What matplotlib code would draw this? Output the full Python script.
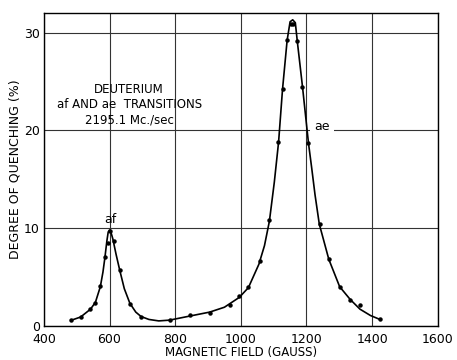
import matplotlib.pyplot as plt

# measured points
field = [482, 512, 542, 557, 572, 586, 594, 600, 614, 631, 662, 696,
         783, 845, 905, 966, 995, 1023, 1057, 1087, 1114, 1127, 1142,
         1153, 1160, 1172, 1186, 1206, 1240, 1268, 1302, 1332, 1363, 1423]
quench = [0.56, 0.9, 1.7, 2.3, 4.1, 7.0, 8.5, 9.7, 8.7, 5.7, 2.2, 0.9,
          0.56, 1.06, 1.3, 2.1, 3.0, 4.0, 6.6, 10.8, 18.8, 24.2, 29.2,
          30.9, 30.9, 29.1, 24.4, 18.7, 10.4, 6.8, 4.0, 2.65, 2.1, 0.66]

# drawn curve
curve_x = [482, 512, 542, 557, 572, 580, 586, 592, 596, 600, 604, 610, 620,
           631, 645, 662, 680, 696, 720, 750, 783, 845, 905, 950, 995, 1023,
           1055, 1072, 1087, 1102, 1115, 1127, 1141, 1150, 1158, 1166, 1172,
           1188, 1206, 1216, 1226, 1239, 1268, 1301, 1333, 1363, 1395, 1423]
curve_y = [0.55, 0.9, 1.7, 2.4, 4.0, 5.5, 7.0, 8.7, 9.6, 9.8, 9.6, 8.9, 7.3,
           5.7, 3.8, 2.3, 1.4, 0.95, 0.65, 0.5, 0.58, 1.0, 1.4, 1.9, 2.9, 3.9,
           6.3, 8.2, 10.7, 14.7, 18.8, 24.2, 29.2, 31.1, 31.3, 31.0, 29.1,
           24.4, 18.7, 16.1, 13.4, 10.4, 6.8, 4.0, 2.7, 1.7, 1.05, 0.66]

fig = plt.figure(figsize=(4.57, 3.6), dpi=100)
ax = fig.add_axes([0.096, 0.095, 0.862, 0.869])

ax.plot(curve_x, curve_y, color='black', lw=1.2)
ax.plot(field, quench, 'o', color='black', ms=2.2)

ax.set_xlim(400, 1600)
ax.set_ylim(0, 32)
ax.set_xticks([400, 600, 800, 1000, 1200, 1400, 1600])
ax.set_yticks([0, 10, 20, 30])
ax.grid(True, color='#333333', lw=0.8)
ax.tick_params(length=0, labelsize=9)
ax.tick_params(axis='x', pad=5)
ax.tick_params(axis='y', pad=3)
for s in ax.spines.values():
    s.set_linewidth(1.0)

ax.set_xlabel("MAGNETIC FIELD (GAUSS)", fontsize=8.5, labelpad=0)
ax.set_ylabel("DEGREE OF QUENCHING (%)", fontsize=9, labelpad=2)

ax.text(660, 24.2, "DEUTERIUM", ha='center', va='center', fontsize=8.5)
ax.text(660, 22.6, "af AND ae  TRANSITIONS", ha='center', va='center', fontsize=8.5)
ax.text(660, 21.0, "2195.1 Mc./sec", ha='center', va='center', fontsize=8.5)
ax.text(604, 10.9, "af", ha='center', va='center', fontsize=9)
ax.text(1248, 20.4, "ae", ha='center', va='center', fontsize=9,
        bbox=dict(facecolor='white', edgecolor='none', pad=3))

plt.savefig("out.png", dpi=100)
